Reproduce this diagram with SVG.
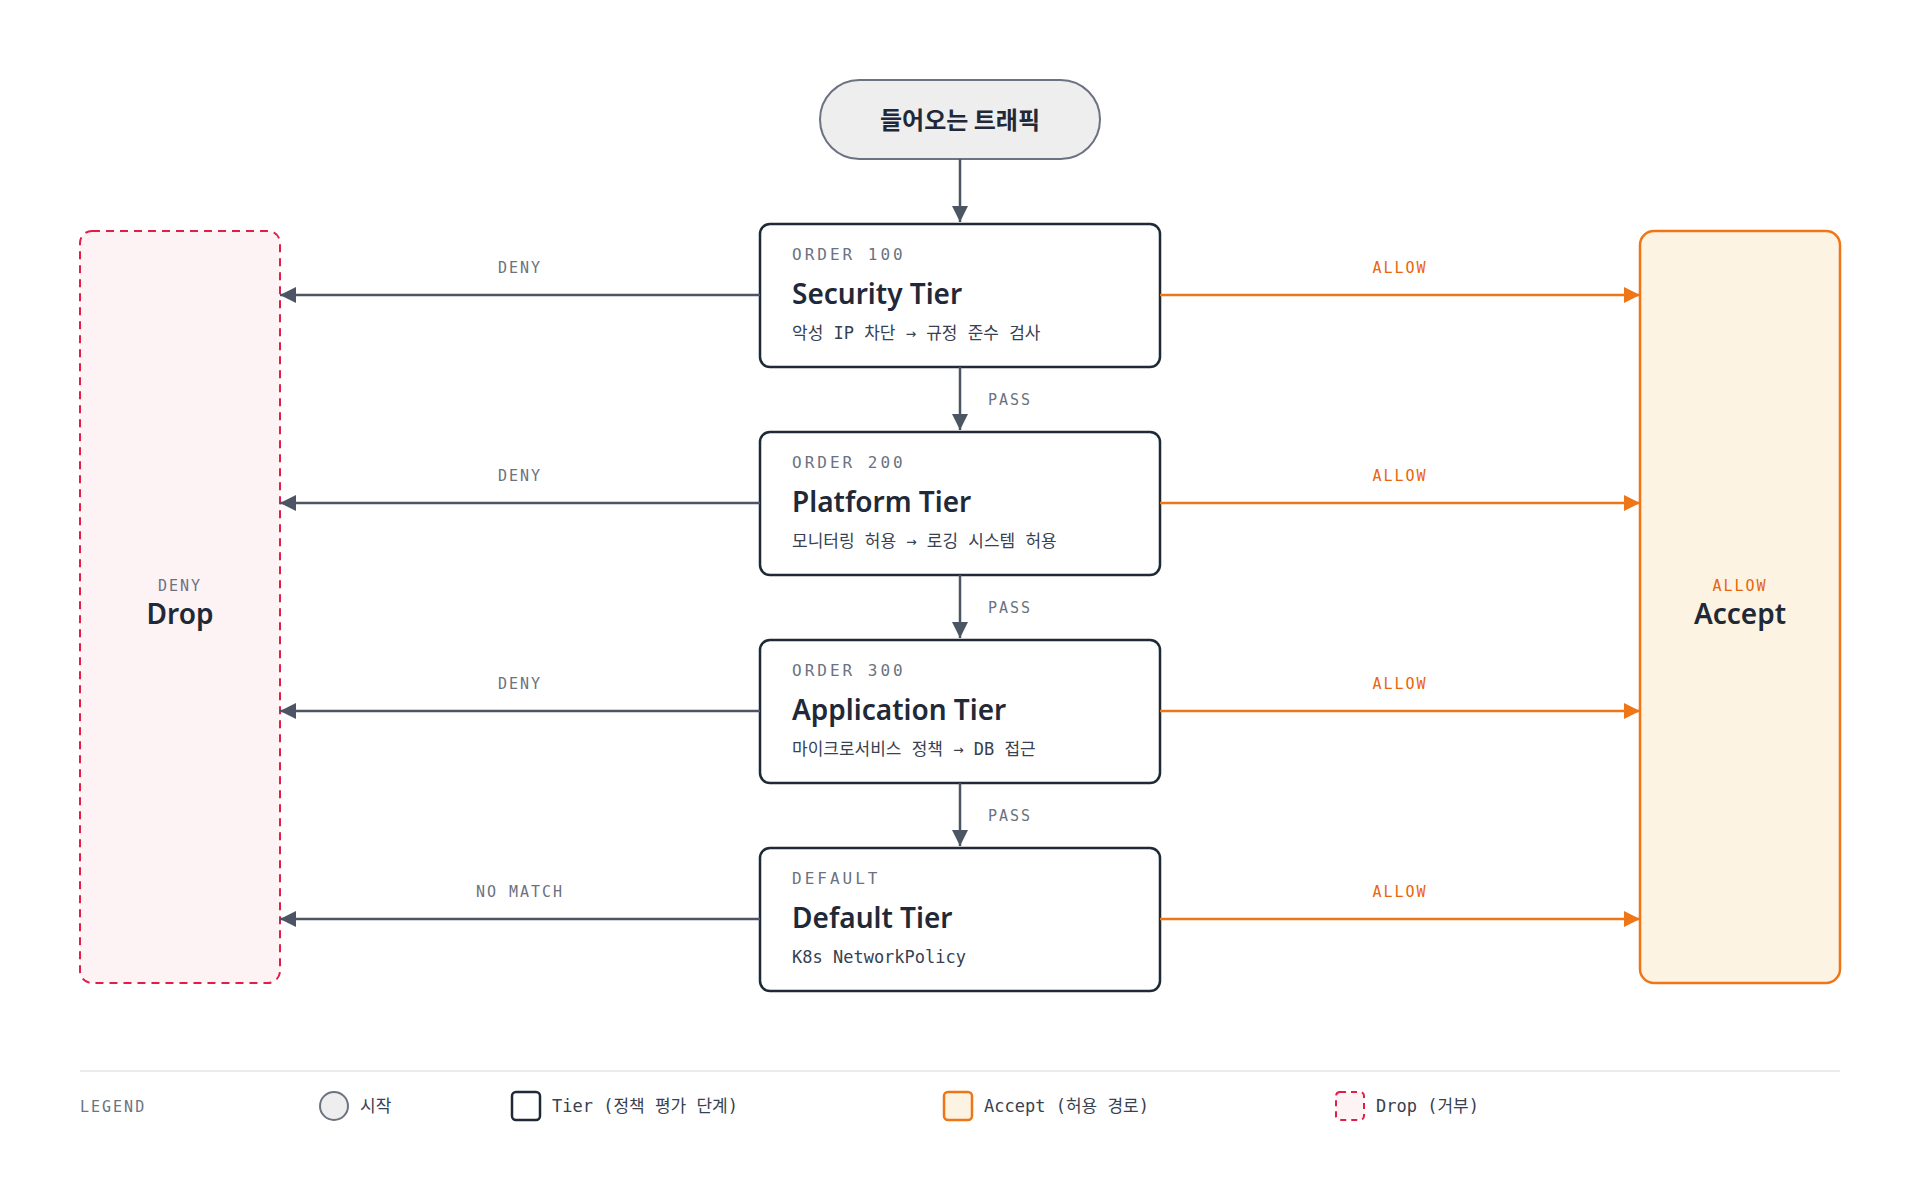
<svg xmlns="http://www.w3.org/2000/svg" width="1920" height="1200" viewBox="0 0 1920 1200">
<defs>
<marker id="ag" viewBox="0 0 10 10" refX="10" refY="5" markerWidth="16" markerHeight="16" markerUnits="userSpaceOnUse" orient="auto"><path d="M0,0 L10,5 L0,10 z" fill="#4b5563"/></marker>
<marker id="ao" viewBox="0 0 10 10" refX="10" refY="5" markerWidth="16" markerHeight="16" markerUnits="userSpaceOnUse" orient="auto"><path d="M0,0 L10,5 L0,10 z" fill="#f07516"/></marker>
<style>
.tier{fill:#fff;stroke:#1f2937;stroke-width:2.5}
.mono{font-family:"DejaVu Sans Mono","Liberation Mono","Noto Sans CJK KR",monospace}
.ord{font-size:16px;fill:#6b7280;letter-spacing:3px}
.ttl{font-family:"Noto Sans","Noto Sans CJK KR",sans-serif;font-weight:600;font-size:28px;fill:#1f2937}
.sub{font-size:17px;fill:#374151}
.g{stroke:#4b5563;stroke-width:2.5;fill:none}
.o{stroke:#f07516;stroke-width:2.5;fill:none}
.lg{font-size:15px;fill:#6b7280;letter-spacing:2px}
.lo{font-size:15px;fill:#e8650c;letter-spacing:2px}
.leg{font-size:17px;fill:#374151}
</style>
</defs>
<rect width="1920" height="1200" fill="#fff"/>
<g id="start"><rect x="820" y="80" width="280" height="79" rx="39.5" fill="#eeeeef" stroke="#6b7280" stroke-width="2"/><text x="960" y="129" text-anchor="middle" font-family="Noto Sans CJK KR,sans-serif" font-weight="700" font-size="24" fill="#1f2937">들어오는 트래픽</text></g>
<g id="drop"><rect x="80" y="231" width="200" height="752" rx="12" fill="#fdf2f4" stroke="#e11d48" stroke-width="2" stroke-dasharray="8,6"/><text x="180" y="591" text-anchor="middle" class="mono lg">DENY</text><text x="180" y="624" text-anchor="middle" class="ttl">Drop</text></g>
<g id="accept"><rect x="1640" y="231" width="200" height="752" rx="14" fill="#fdf3e3" stroke="#f07516" stroke-width="2.5"/><text x="1740" y="591" text-anchor="middle" class="mono lo">ALLOW</text><text x="1740" y="624" text-anchor="middle" class="ttl">Accept</text></g>
<g id="t1"><rect class="tier" x="760" y="224" width="400" height="143" rx="10"/><text x="792" y="260" class="mono ord">ORDER 100</text><text x="792" y="304" class="ttl">Security Tier</text><text x="792" y="339" class="mono sub">악성 IP 차단 → 규정 준수 검사</text></g>
<g id="t2"><rect class="tier" x="760" y="432" width="400" height="143" rx="10"/><text x="792" y="468" class="mono ord">ORDER 200</text><text x="792" y="512" class="ttl">Platform Tier</text><text x="792" y="547" class="mono sub">모니터링 허용 → 로깅 시스템 허용</text></g>
<g id="t3"><rect class="tier" x="760" y="640" width="400" height="143" rx="10"/><text x="792" y="676" class="mono ord">ORDER 300</text><text x="792" y="720" class="ttl">Application Tier</text><text x="792" y="755" class="mono sub">마이크로서비스 정책 → DB 접근</text></g>
<g id="t4"><rect class="tier" x="760" y="848" width="400" height="143" rx="10"/><text x="792" y="884" class="mono ord">DEFAULT</text><text x="792" y="928" class="ttl">Default Tier</text><text x="792" y="963" class="mono sub">K8s NetworkPolicy</text></g>
<g id="connectors">
<line class="g" x1="960" y1="159" x2="960" y2="222" marker-end="url(#ag)"/>
<line class="g" x1="960" y1="367" x2="960" y2="430" marker-end="url(#ag)"/>
<line class="g" x1="960" y1="575" x2="960" y2="638" marker-end="url(#ag)"/>
<line class="g" x1="960" y1="783" x2="960" y2="846" marker-end="url(#ag)"/>
<text x="988" y="405" class="mono lg">PASS</text><text x="988" y="613" class="mono lg">PASS</text><text x="988" y="821" class="mono lg">PASS</text>
<line class="g" x1="760" y1="295" x2="280" y2="295" marker-end="url(#ag)"/>
<line class="g" x1="760" y1="503" x2="280" y2="503" marker-end="url(#ag)"/>
<line class="g" x1="760" y1="711" x2="280" y2="711" marker-end="url(#ag)"/>
<line class="g" x1="760" y1="919" x2="280" y2="919" marker-end="url(#ag)"/>
<text x="520" y="273" text-anchor="middle" class="mono lg">DENY</text><text x="520" y="481" text-anchor="middle" class="mono lg">DENY</text><text x="520" y="689" text-anchor="middle" class="mono lg">DENY</text><text x="520" y="897" text-anchor="middle" class="mono lg">NO MATCH</text>
<line class="o" x1="1160" y1="295" x2="1640" y2="295" marker-end="url(#ao)"/>
<line class="o" x1="1160" y1="503" x2="1640" y2="503" marker-end="url(#ao)"/>
<line class="o" x1="1160" y1="711" x2="1640" y2="711" marker-end="url(#ao)"/>
<line class="o" x1="1160" y1="919" x2="1640" y2="919" marker-end="url(#ao)"/>
<text x="1400" y="273" text-anchor="middle" class="mono lo">ALLOW</text><text x="1400" y="481" text-anchor="middle" class="mono lo">ALLOW</text><text x="1400" y="689" text-anchor="middle" class="mono lo">ALLOW</text><text x="1400" y="897" text-anchor="middle" class="mono lo">ALLOW</text>
</g>
<g id="legend">
<line x1="80" y1="1071" x2="1840" y2="1071" stroke="#ebebeb" stroke-width="2"/>
<text x="80" y="1112" class="mono lg">LEGEND</text>
<circle cx="334" cy="1106" r="14" fill="#eeeeef" stroke="#6b7280" stroke-width="2"/><text x="360" y="1112" class="mono leg">시작</text>
<rect x="512" y="1092" width="28" height="28" rx="4" fill="#fff" stroke="#1f2937" stroke-width="2.5"/><text x="552" y="1112" class="mono leg">Tier (정책 평가 단계)</text>
<rect x="944" y="1092" width="28" height="28" rx="4" fill="#fdf3e3" stroke="#f07516" stroke-width="2.5"/><text x="984" y="1112" class="mono leg">Accept (허용 경로)</text>
<rect x="1336" y="1092" width="28" height="28" rx="4" fill="#fdf2f4" stroke="#e11d48" stroke-width="2" stroke-dasharray="6,5"/><text x="1376" y="1112" class="mono leg">Drop (거부)</text>
</g>
</svg>
